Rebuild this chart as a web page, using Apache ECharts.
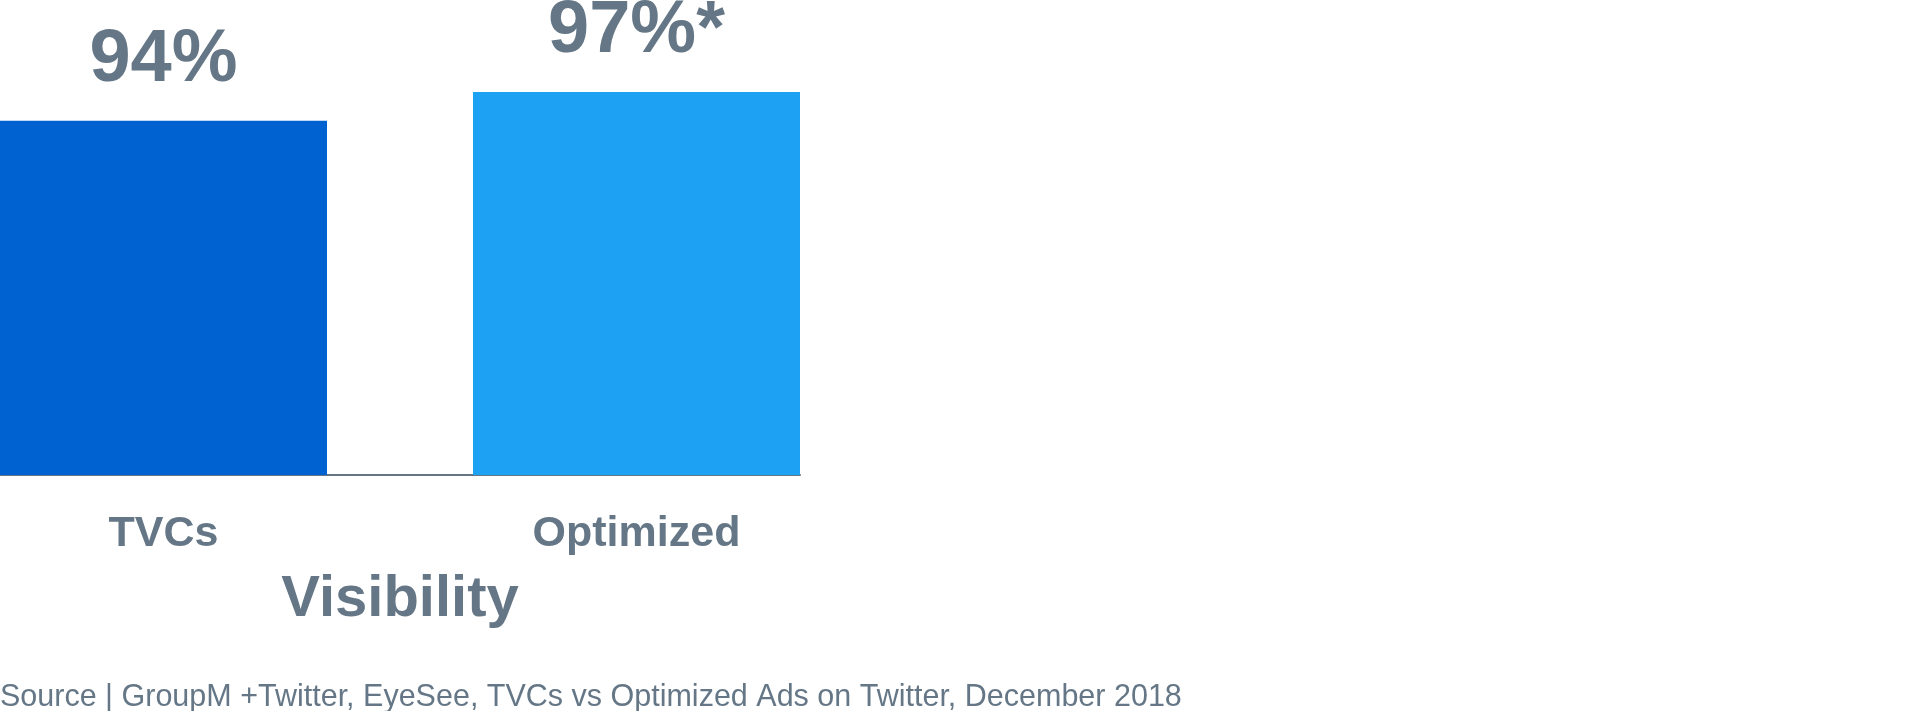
<!DOCTYPE html>
<html>
<head>
<meta charset="utf-8">
<script src="https://cdn.jsdelivr.net/npm/echarts@6/dist/echarts.min.js"></script>
<style>
html,body{margin:0;padding:0;background:#fff;}
#chart{width:1920px;height:711px;}
</style>
</head>
<body>
<div id="chart"></div>
<script>
const categories = ['TVCs', 'Optimized'];
const values = [94, 97];
const valueLabels = ['94%', '97%*'];
const barColors = ['#0062d1', '#1da1f2'];
const axisName = 'Visibility';
const sourceText = 'Source | GroupM +Twitter, EyeSee, TVCs vs Optimized Ads on Twitter, December 2018';

const textColor = '#657786';
const fontFamily = '"Liberation Sans", Arial, Helvetica, sans-serif';

const chart = echarts.init(document.getElementById('chart'));
chart.setOption({
  backgroundColor: '#ffffff',
  animation: false,
  title: {
    text: sourceText,
    left: 0,
    top: 682,
    padding: 0,
    textStyle: { color: textColor, fontSize: 30.5, fontWeight: 'normal', fontFamily: fontFamily }
  },
  grid: [
    { left: -73, width: 946, top: 92, height: 383, containLabel: false, outerBoundsMode: 'none' },
    { left: 0, width: 800, top: 92, height: 383, containLabel: false, outerBoundsMode: 'none' }
  ],
  xAxis: [
    {
      type: 'category', gridIndex: 0, data: categories,
      axisLine: { show: false }, axisTick: { show: false },
      axisLabel: { color: textColor, fontSize: 43, fontWeight: 'bold', fontFamily: fontFamily, margin: 38 },
      name: axisName, nameLocation: 'middle', nameGap: 96,
      nameTextStyle: { color: textColor, fontSize: 58, fontWeight: 'bold', fontFamily: fontFamily }
    },
    {
      type: 'category', gridIndex: 1, data: categories,
      axisLine: { show: true, lineStyle: { color: textColor, width: 2 } },
      axisTick: { show: false }, axisLabel: { show: false }
    }
  ],
  yAxis: [
    { type: 'value', gridIndex: 0, min: 57, max: 97, show: false },
    { type: 'value', gridIndex: 1, min: 57, max: 97, show: false }
  ],
  series: [{
    type: 'bar',
    xAxisIndex: 0, yAxisIndex: 0,
    barWidth: 327,
    data: values.map((v, i) => ({ value: v, itemStyle: { color: barColors[i] } })),
    label: {
      show: true, position: 'top', distance: 23,
      formatter: p => valueLabels[p.dataIndex],
      color: textColor, fontSize: 74, fontWeight: 'bold', fontFamily: fontFamily
    }
  }]
});
</script>
</body>
</html>
